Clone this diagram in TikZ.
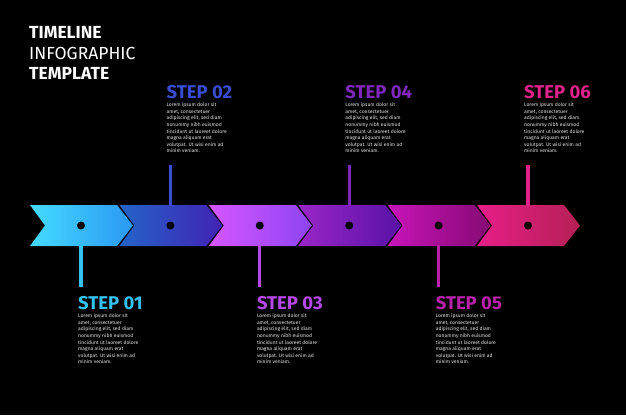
\documentclass[tikz,border=0pt]{standalone}
\usepackage{fontspec}
\setmainfont{Fira Sans}
\usetikzlibrary{positioning,calc}

% chevron colours, left / right end of the gradient, and the label colour
\definecolor{la}{HTML}{45DAFF}\definecolor{ra}{HTML}{2A98F2}\definecolor{sa}{HTML}{35C2F2}
\definecolor{lb}{HTML}{2464C8}\definecolor{rb}{HTML}{4222B4}\definecolor{sb}{HTML}{3A4CD0}
\definecolor{lc}{HTML}{D656FF}\definecolor{rc}{HTML}{8E44F2}\definecolor{sc}{HTML}{B648EA}
\definecolor{ld}{HTML}{9A26C8}\definecolor{rd}{HTML}{5812A6}\definecolor{sd}{HTML}{8028BC}
\definecolor{le}{HTML}{C814B8}\definecolor{re}{HTML}{860A74}\definecolor{se}{HTML}{B822A8}
\definecolor{lf}{HTML}{E81E88}\definecolor{rf}{HTML}{B42054}\definecolor{sf}{HTML}{E0228A}
\definecolor{bodytext}{HTML}{E4E4E4}

\newcommand{\loremtext}{Lorem ipsum dolor sit\\amet, consectetuer\\adipiscing elit, sed diam\\nonummy nibh euismod\\tincidunt ut laoreet dolore\\magna aliquam erat\\volutpat. Ut wisi enim ad\\minim veniam.}

\begin{document}
\begin{tikzpicture}
[x=1pt, y=-1pt,
title/.style={anchor=base west, inner sep=0pt, text=white, font=\fontsize{17.5}{17.5}\selectfont},
steplabel/.style={anchor=base west, inner sep=0pt, font=\fontsize{18.5}{18.5}\selectfont\bfseries},
body/.style={anchor=north west, inner sep=0pt, align=left, text=bodytext, font=\fontsize{5}{6.6}\selectfont},
stem/.style={line width=3.3pt},
dot/.style={circle, fill=black, inner sep=0pt, minimum size=8pt}]

\fill[black] (0,0) rectangle (626,415);

\node[title, font=\fontsize{17.5}{17.5}\selectfont\bfseries] (head1) at (29,38.5) {TIMELINE};
\node[title] (head2) at (29,59) {INFOGRAPHIC};
\node[title, font=\fontsize{17.5}{17.5}\selectfont\bfseries] (head3) at (29,79) {TEMPLATE};

\foreach \i/\colL/\colR/\colS in {1/la/ra/sa, 2/lb/rb/sb, 3/lc/rc/sc, 4/ld/rd/sd, 5/le/re/se, 6/lf/rf/sf} {
  \pgfmathsetmacro\cx{81+(\i-1)*89.4}

  % chevron
  \shade[left color=\colL, right color=\colR]
    (\cx-51,205) -- (\cx+36,205) -- (\cx+52,225.5) -- (\cx+36,246)
    -- (\cx-51,246) -- (\cx-36,225.5) -- cycle;
  \node[dot] (dot\i) at (\cx,225.5) {};

  \ifodd\i
    \coordinate (edge\i) at (\cx,245);
    \coordinate (end\i) at (\cx,287);
    \node[steplabel, text=\colS] (lbl\i) at (\cx-3,309) {STEP 0\i};
    \node[body] (txt\i) at (\cx-3,313.5) {\loremtext};
  \else
    \coordinate (edge\i) at (\cx,206);
    \coordinate (end\i) at (\cx,165);
    \node[steplabel, text=\colS] (lbl\i) at (\cx-4,98) {STEP 0\i};
    \node[body] (txt\i) at (\cx-4,102.5) {\loremtext};
  \fi
  \draw[stem, \colS] (edge\i) -- (end\i);
}
\end{tikzpicture}
\end{document}
